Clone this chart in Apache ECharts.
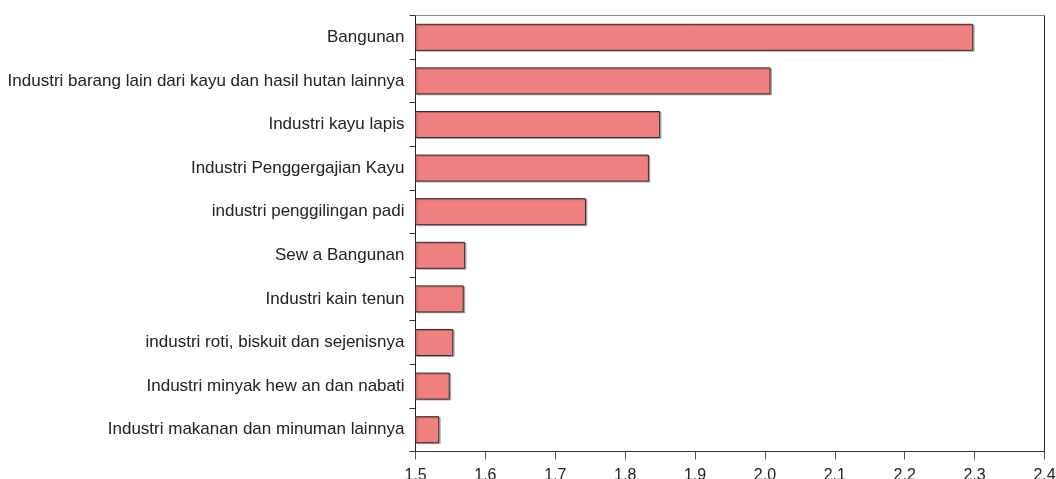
<!DOCTYPE html>
<html><head><meta charset="utf-8">
<script src="https://cdn.jsdelivr.net/npm/echarts@6/dist/echarts.min.js"></script>
<style>html,body{margin:0;padding:0;background:#fff}#c{width:1056px;height:479px}</style>
</head><body><div id="c"></div>
<script>
const categories = [
  "Bangunan",
  "Industri barang lain dari kayu dan hasil hutan lainnya",
  "Industri kayu lapis",
  "Industri Penggergajian Kayu",
  "industri penggilingan padi",
  "Sew a Bangunan",
  "Industri kain tenun",
  "industri roti, biskuit dan sejenisnya",
  "Industri minyak hew an dan nabati",
  "Industri makanan dan minuman lainnya"
];
const values = [2.298, 2.008, 1.850, 1.834, 1.744, 1.571, 1.569, 1.554, 1.549, 1.534];
const xTicks = [1.5, 1.6, 1.7, 1.8, 1.9, 2.0, 2.1, 2.2, 2.3, 2.4];

const FONT = "'Liberation Sans', Arial, sans-serif";
const chart = echarts.init(document.getElementById('c'), null, {renderer: 'canvas'});
chart.setOption({
  animation: false,
  grid: {left: 415.5, right: 11.5, top: 15.5, bottom: 27.5, show: false,
    containLabel: false, outerBoundsMode: 'none'},
  xAxis: [{
    type: 'value', min: xTicks[0], max: xTicks[xTicks.length - 1], interval: 0.1,
    position: 'bottom',
    axisLine: {show: true, lineStyle: {color: '#333', width: 1}},
    axisTick: {show: true, length: 8, lineStyle: {color: '#555'}},
    axisLabel: {color: '#222', fontSize: 16, fontFamily: FONT, margin: 16,
      formatter: v => v.toFixed(1)},
    splitLine: {show: false}
  }, {
    type: 'value', min: xTicks[0], max: xTicks[xTicks.length - 1], position: 'top',
    axisLine: {show: true, lineStyle: {color: '#888', width: 1}},
    axisTick: {show: false}, axisLabel: {show: false}, splitLine: {show: false}
  }],
  yAxis: [{
    type: 'category', data: categories, inverse: true,
    axisLine: {show: true, lineStyle: {color: '#222', width: 1}},
    axisTick: {show: true, length: 6, lineStyle: {color: '#333'}},
    axisLabel: {color: '#222', fontSize: 17, fontFamily: FONT, margin: 11}
  }, {
    type: 'category', data: categories, inverse: true, position: 'right',
    axisLine: {show: true, lineStyle: {color: '#222', width: 1}},
    axisTick: {show: false}, axisLabel: {show: false}
  }],
  series: [{
    type: 'bar', data: values, xAxisIndex: 0, yAxisIndex: 0,
    barCategoryGap: '38%',
    itemStyle: {color: '#F08080', borderColor: '#3a2a2a', borderWidth: 1,
      shadowColor: 'rgba(0,0,0,0.25)', shadowOffsetX: 1.5, shadowOffsetY: 1, shadowBlur: 0}
  }]
});
</script></body></html>
